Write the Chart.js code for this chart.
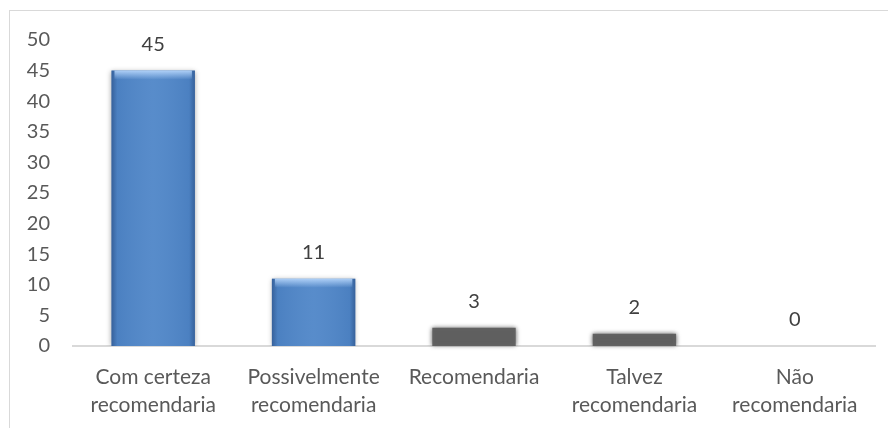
<!DOCTYPE html>
<html>
<head>
<meta charset="utf-8">
<script src="https://cdn.jsdelivr.net/npm/chart.js@4"></script>
<style>
  html, body { margin: 0; padding: 0; background: #fff; overflow: hidden; }
  #frame { position: absolute; left: 9px; top: 10px; width: 900px; height: 440px; border: 1px solid #d9d9d9; }
  #wrap { position: absolute; left: 0; top: 0; width: 888px; height: 428px; }
</style>
</head>
<body>
<div id="frame"></div>
<div id="wrap"><canvas id="chart"></canvas></div>
<script>
const categories = [
    ["Com certeza", "recomendaria"],
    ["Possivelmente", "recomendaria"],
    "Recomendaria",
    ["Talvez", "recomendaria"],
    ["Não", "recomendaria"]
];
const respostas = [45, 11, 3, 2, 0];
const barColors = ["#4f86c8", "#4f86c8", "#666666", "#666666", "#666666"];

const FONT = "Lato, 'Open Sans', sans-serif";

// soft shadow around bars
const barShadow = {
    id: "barShadow",
    beforeDatasetsDraw(chart) {
        const ctx = chart.ctx;
        ctx.save();
        ctx.shadowColor = "rgba(0,0,0,0.35)";
        ctx.shadowBlur = 5;
    },
    afterDatasetsDraw(chart) {
        chart.ctx.restore();
    }
};

// shading on top of each blue bar: darker sides, light cap
const barShade = {
    id: "barShade",
    afterDatasetsDraw(chart) {
        const ctx = chart.ctx;
        chart.getDatasetMeta(0).data.forEach((bar, i) => {
            const h = bar.base - bar.y;
            if (h <= 0) return;
            const left = bar.x - bar.width / 2;
            const w = bar.width;
            ctx.save();
            if (i < 2) {
                const g = ctx.createLinearGradient(left, 0, left + w, 0);
                g.addColorStop(0, "rgba(30,60,110,0.5)");
                g.addColorStop(0.07, "rgba(30,60,110,0.08)");
                g.addColorStop(0.5, "rgba(255,255,255,0.05)");
                g.addColorStop(0.93, "rgba(30,60,110,0.08)");
                g.addColorStop(1, "rgba(30,60,110,0.5)");
                ctx.fillStyle = g;
                ctx.fillRect(left, bar.y, w, h);
                const t = ctx.createLinearGradient(0, bar.y, 0, bar.y + 9);
                t.addColorStop(0, "rgba(190,220,255,0.85)");
                t.addColorStop(1, "rgba(190,220,255,0)");
                ctx.fillStyle = t;
                ctx.fillRect(left + 3, bar.y, w - 6, 9);
            } else {
                ctx.filter = "blur(2px)";
                ctx.fillStyle = "rgba(90,90,90,0.6)";
                ctx.fillRect(left, bar.y, w, h);
            }
            ctx.restore();
        });
    }
};

// value labels above bars
const valueLabels = {
    id: "valueLabels",
    afterDatasetsDraw(chart) {
        const ctx = chart.ctx;
        ctx.save();
        ctx.font = "20px " + FONT;
        ctx.fillStyle = "#404040";
        ctx.textAlign = "center";
        ctx.textBaseline = "middle";
        chart.getDatasetMeta(0).data.forEach((bar, i) => {
            ctx.fillText(String(respostas[i]), bar.x, bar.y - 26);
        });
        ctx.restore();
    }
};

new Chart(document.getElementById("chart"), {
    type: "bar",
    data: {
        labels: categories,
        datasets: [{
            data: respostas,
            backgroundColor: barColors,
            borderWidth: 0,
            barPercentage: 0.52,
            categoryPercentage: 1
        }]
    },
    options: {
        responsive: true,
        maintainAspectRatio: false,
        animation: false,
        layout: { padding: { left: 10, right: 13, top: 40, bottom: 0 } },
        plugins: { legend: { display: false }, tooltip: { enabled: false } },
        scales: {
            x: {
                grid: { display: false, drawTicks: false },
                border: { color: "#d9d9d9", width: 2 },
                ticks: { color: "#595959", font: { family: FONT, size: 21, lineHeight: 1.3 }, padding: 18, maxRotation: 0, autoSkip: false },
                afterFit(axis) { axis.height = 82; }
            },
            y: {
                min: 0, max: 50,
                grid: { display: false, drawTicks: false },
                border: { display: false },
                ticks: { stepSize: 5, color: "#595959", font: { family: FONT, size: 20 }, padding: 23 },
                afterFit(axis) { axis.width = 63; }
            }
        }
    },
    plugins: [barShadow, barShade, valueLabels]
});
</script>
</body>
</html>
